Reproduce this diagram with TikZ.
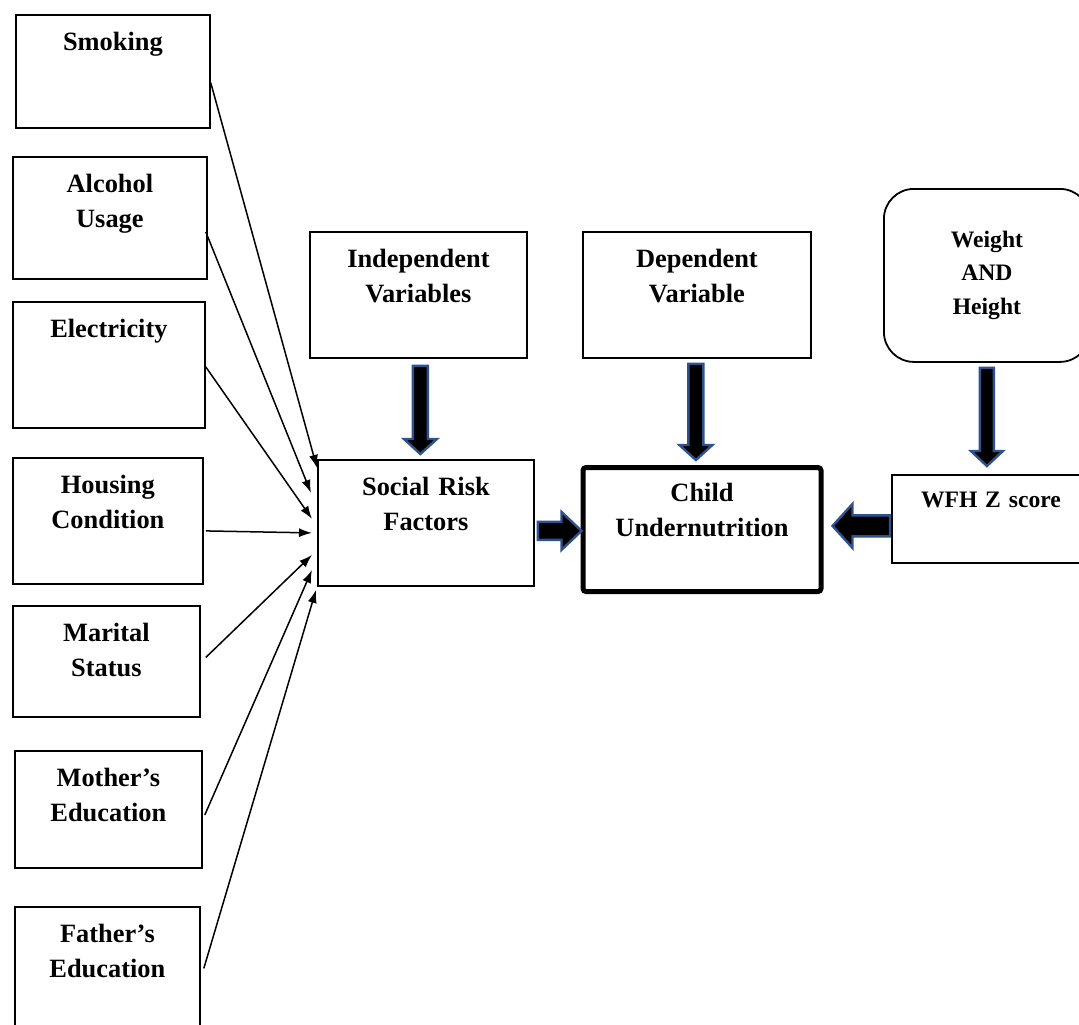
\documentclass[tikz,border=0pt]{standalone}
\usepackage{fontspec}
\setmainfont{Liberation Serif}
\usetikzlibrary{calc,arrows.meta}

\definecolor{arrowblue}{RGB}{47,82,143}

\tikzset{
  box/.style={draw, line width=0.9pt, inner sep=0pt, align=center, anchor=north west,
    text height=18pt, font=\bfseries\fontsize{13.2}{17.5}\selectfont},
  small/.style={font=\bfseries\fontsize{11.8}{16.8}\selectfont},
  feed/.style={line width=0.75pt, -{Latex[length=6.5pt,width=4.5pt]}},
  fat/.style={draw=arrowblue, fill=black, line width=1.2pt, line join=miter},
}

\newcommand{\fatarrow}[5]{%
  \coordinate (fa-s) at #1;
  \coordinate (fa-t) at #2;
  \coordinate (fa-h) at ($(fa-t)!#5!(fa-s)$);
  \draw[fat] ($(fa-s)!#3!90:(fa-t)$) -- ($(fa-h)!#3!90:(fa-t)$) -- ($(fa-h)!#4!90:(fa-t)$)
    -- (fa-t) -- ($(fa-h)!#4!-90:(fa-t)$) -- ($(fa-h)!#3!-90:(fa-t)$) -- ($(fa-s)!#3!-90:(fa-t)$) -- cycle;
}

\begin{document}
\begin{tikzpicture}[x=0.5pt, y=-0.5pt]
      \useasboundingbox (0,0) rectangle (1079,1024);
      \clip (0,0) rectangle (1079,1024);
      \node[box, text width=97pt, text depth=38.5pt] (smk) at (15,14) {Smoking};
      \node[box, text width=97pt, text depth=43pt] (alc) at (12,156) {Alcohol\\Usage};
      \node[box, text width=96pt, text depth=45pt] (ele) at (12,301) {Electricity};
      \node[box, text width=95pt, text depth=45pt] (hou) at (12,457) {Housing\\Condition};
      \node[box, text width=93.5pt, text depth=37.5pt] (mar) at (12,605) {Marital\\Status};
      \node[box, text width=93.5pt, text depth=40.5pt] (mot) at (14,750) {Mother’s\\Education};
      \node[box, text width=92.5pt, text depth=43.5pt] (fat) at (14,906) {Father’s\\Education};
      \node[box, text width=108.5pt, text depth=45pt] (ind) at (309,231) {Independent\\Variables};
      \node[box, text width=114pt, text depth=45pt] (dep) at (582,231) {Dependent\\Variable};
      \node[box, text width=108pt, text depth=45pt] (srf) at (317,459) {Social Risk\\Factors};
      \node[box, line width=2.5pt, rounded corners=1.5pt, text width=119pt, text height=17pt,
        text depth=45pt] (cu) at (580.5,465) {Child\\Undernutrition};
      \node[box, small, text width=99pt, text height=16.5pt, text depth=27.5pt] (wfh) at (891,474) {WFH Z score};
      \node[draw, line width=0.9pt, rounded corners=15pt, minimum width=103pt, minimum height=86.5pt,
        inner sep=0pt, align=center, anchor=north west, small] (wah) at (883,188) {Weight\\AND\\Height};
      \draw[feed] ([yshift=-5.75pt]smk.east) -- ([yshift=27.5pt]srf.west);
      \draw[feed] ([xshift=-1pt,yshift=-7pt]alc.east) -- ([xshift=-3pt,yshift=15pt]srf.west);
      \draw[feed] ([yshift=-1pt]ele.east) -- ([xshift=-2.5pt,yshift=2pt]srf.west);
      \draw[feed] ([xshift=1pt,yshift=-5pt]hou.east) -- ([xshift=-2.5pt,yshift=-5pt]srf.west);
      \draw[feed] ([xshift=2.5pt,yshift=2pt]mar.east) -- ([xshift=-2.5pt,yshift=-16pt]srf.west);
      \draw[feed] ([xshift=1pt,yshift=-2.75pt]mot.east) -- ([xshift=-2.5pt,yshift=-23.5pt]srf.west);
      \draw[feed] ([xshift=1.5pt]fat.east) -- ([xshift=-0.5pt,yshift=-33.5pt]srf.west);
      \fatarrow{($(ind.south)+(2,7)$)}{($(ind.south |- srf.north)+(2,-5)$)}{3.75pt}{8.25pt}{7.5pt}
      \fatarrow{($(dep.south)+(-1,5)$)}{($(dep.south |- cu.north)+(-1,-5)$)}{3.75pt}{8.25pt}{7.5pt}
      \fatarrow{($(wah.south)+(0,5)$)}{($(wah.south |- wfh.north)+(0,-8)$)}{3.5pt}{8pt}{7.5pt}
      \fatarrow{($(srf.east)+(3,8)$)}{($(srf.east -| cu.west)+(1,8)$)}{4.5pt}{9.5pt}{10pt}
      \fatarrow{($(wfh.west)+(-1,7)$)}{($(wfh.west -| cu.east)+(9,7)$)}{5.25pt}{11pt}{10pt}
    \end{tikzpicture}
\end{document}
